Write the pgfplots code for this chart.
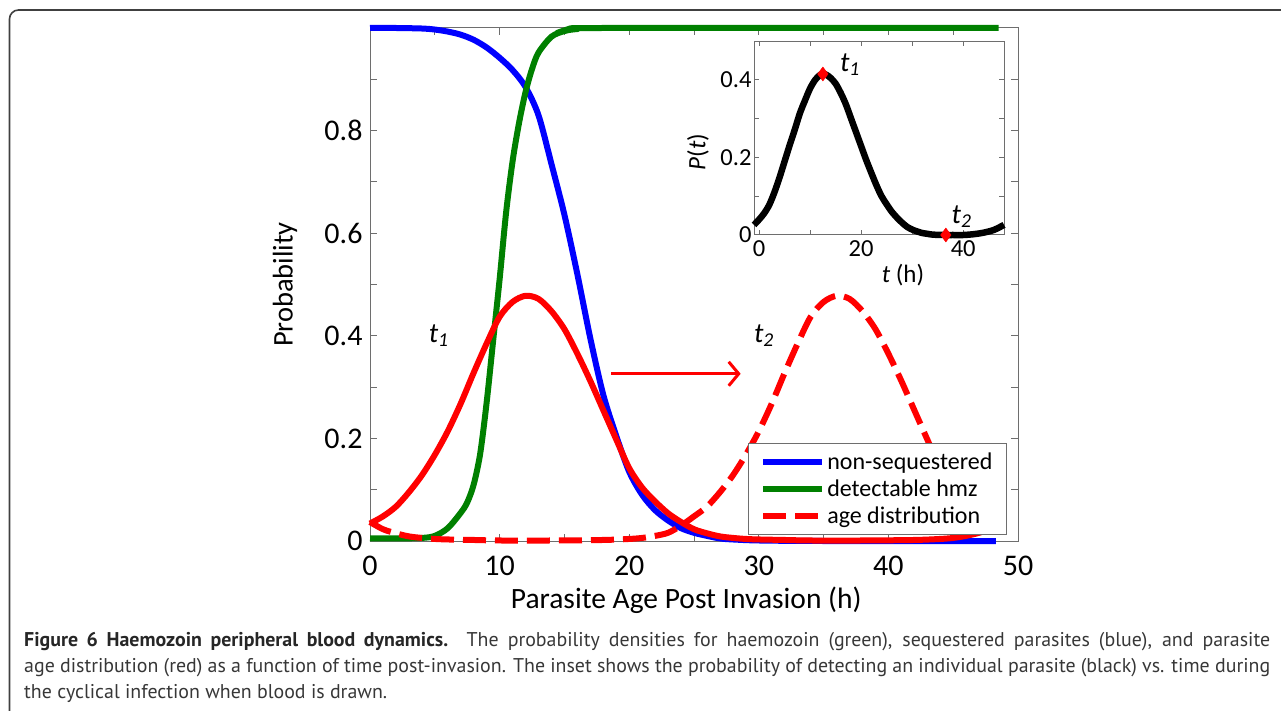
\documentclass[border=0pt]{standalone}
\usepackage{pgfplots}
\pgfplotsset{compat=1.18}
\usepackage{fontspec}
\setmainfont{Carlito}
\newfontfamily\capfont{PT Sans}
\usetikzlibrary{arrows.meta}
\definecolor{mblue}{RGB}{0,0,255}
\definecolor{mgreen}{RGB}{0,128,0}
\definecolor{mred}{RGB}{255,0,0}
\definecolor{axgray}{RGB}{110,110,110}
\definecolor{capgray}{RGB}{55,55,55}
\begin{document}
\begin{tikzpicture}[x=1pt,y=1pt]
\useasboundingbox (0,0) rectangle (1281,710);
\begin{scope}
\clip (0,0) rectangle (1281,710);
\draw[black!75, line width=1.6pt, rounded corners=9pt] (9.5,-30) -- (9.5,700) -- (1330,700);
\end{scope}
\begin{axis}[
  at={(370pt,169pt)}, anchor=south west,
  scale only axis, width=648pt, height=513pt,
  xmin=0, xmax=50, ymin=0, ymax=1,
  clip=false,
  axis line style={axgray, line width=1pt},
  tick style={axgray, line width=1pt},
  major tick length=7pt,
  tick align=inside,
  xtick={0,5,10,15,20,25,30,35,40,45,50},
  xticklabels={0,,10,,20,,30,,40,,50},
  ytick={0,0.1,0.2,0.3,0.4,0.5,0.6,0.7,0.8,0.9},
  yticklabels={0,,0.2,,0.4,,0.6,,0.8,},
  /pgf/number format/assume math mode=true,
  tick label style={font=\fontsize{30}{32}\selectfont},
  xticklabel style={yshift=-11pt},
  yticklabel style={xshift=-4pt},
  xlabel={Parasite Age Post Invasion (h)},
  ylabel={Probability},
  xlabel style={font=\fontsize{29.5}{32}\selectfont, at={(axis description cs:0.488,-0.115)}, anchor=center},
  ylabel style={font=\fontsize{28.5}{32}\selectfont, at={(axis description cs:-0.131,0.5)}, anchor=center},
  legend style={font=\fontsize{24}{27}\selectfont, draw=axgray, line width=1pt,
    at={(axis description cs:0.583,0.012)}, anchor=south west,
    inner xsep=12pt, inner ysep=7pt, row sep=5pt, fill=white},
  legend cell align=left,
  legend image code/.code={\draw[#1, line width=6pt] (0pt,0pt) -- (59pt,0pt);},
]
\addplot[mblue, line width=6pt, smooth] coordinates {
(0,1.000) (2,1.000) (4,0.999) (5,0.997) (6,0.993) (7,0.987) (8,0.977) (9,0.962)
(10,0.942) (11,0.918) (12,0.885) (13,0.830) (14,0.735) (15,0.636) (16,0.520)
(17,0.395) (18,0.285) (19,0.205) (20,0.135) (21,0.090) (22,0.060) (23,0.040)
(24,0.025) (25,0.016) (26,0.010) (27,0.005) (28,0.003) (30,0.001) (35,0.000) (48.3,0.000)};
\addlegendentry{non-sequestered}
\addplot[mgreen, line width=6pt, smooth] coordinates {
(0,0.005) (2,0.005) (4,0.006) (5,0.010) (6,0.025) (7,0.055) (7.5,0.075) (8,0.110)
(8.5,0.170) (9,0.270) (9.5,0.390) (10,0.510) (10.5,0.640) (11,0.740) (11.5,0.815)
(12,0.875) (12.5,0.920) (13,0.952) (14,0.983) (15,0.994) (16,0.998) (18,1.000) (48.5,1.000)};
\addlegendentry{detectable hmz}
\addplot[mred, line width=6pt, smooth, forget plot] coordinates {
(0,0.034) (1,0.048) (2,0.067) (3,0.095) (4,0.128) (5,0.168) (6,0.214) (7,0.268)
(8,0.328) (9,0.385) (10,0.437) (11,0.466) (12,0.478) (13,0.472) (14,0.448) (15,0.413)
(16,0.365) (17,0.312) (18,0.255) (19,0.198) (20,0.142) (21,0.104) (22,0.077) (23,0.054)
(24,0.037) (25,0.023) (26,0.015) (27,0.009) (28,0.006) (29,0.004) (30,0.003) (32,0.002)
(34,0.001) (38,0.001) (42,0.002) (44,0.004) (45,0.006) (46,0.010) (47,0.016) (48,0.024)};
\addplot[mred, line width=6pt, smooth, dash pattern=on 23pt off 9pt] coordinates {
(0,0.037) (1,0.023) (2,0.015) (3,0.009) (4,0.006) (5,0.004) (6,0.003) (8,0.002)
(10,0.001) (14,0.001) (18,0.002) (20,0.004) (21,0.006) (22,0.010) (23,0.016) (24,0.030)
(25,0.048) (26,0.067) (27,0.095) (28,0.128) (29,0.168) (30,0.214) (31,0.268) (32,0.328)
(33,0.385) (34,0.437) (35,0.466) (36,0.478) (37,0.472) (38,0.448) (39,0.413) (40,0.365)
(41,0.312) (42,0.255) (43,0.198) (44,0.142) (45,0.104) (46,0.077) (47,0.054) (48,0.037)};
\addlegendentry{age distribution}
\draw[mred, line width=3pt, -{Straight Barb[length=10pt,width=24pt,line width=3pt]}] (axis cs:18.6,0.326) -- (axis cs:28.6,0.326);
\node[font=\fontsize{28}{30}\selectfont] at (axis cs:5.3,0.40) {\textit{t}\textsubscript{\textit{1}}};
\node[font=\fontsize{28}{30}\selectfont] at (axis cs:30.4,0.40) {\textit{t}\textsubscript{\textit{2}}};
\end{axis}
\begin{axis}[
  at={(754pt,475pt)}, anchor=south west,
  scale only axis, width=250pt, height=194pt,
  xmin=-1, xmax=48, ymin=0, ymax=0.5,
  clip=false,
  axis background/.style={fill=white},
  axis line style={axgray, line width=1pt},
  tick style={axgray, line width=1pt},
  major tick length=5pt,
  tick align=inside,
  xtick={0,10,20,30,40},
  xticklabels={0,,20,,40},
  ytick={0,0.1,0.2,0.3,0.4},
  yticklabels={0,,0.2,,0.4},
  /pgf/number format/assume math mode=true,
  tick label style={font=\fontsize{24.5}{26}\selectfont},
  xticklabel style={yshift=-2pt},
  yticklabel style={xshift=1pt},
  xlabel={\textit{t} (h)},
  ylabel={\textit{P}(\textit{t})},
  label style={font=\fontsize{25}{28}\selectfont},
  xlabel style={at={(axis description cs:0.596,-0.206)}, anchor=center},
  ylabel style={at={(axis description cs:-0.224,0.428)}, anchor=center},
]
\addplot[black, line width=6.5pt, smooth] coordinates {
(-1,0.026) (0,0.040) (1,0.056) (2,0.078) (3,0.110) (4,0.148) (5,0.190) (6,0.232)
(7,0.272) (8,0.314) (9,0.347) (10,0.378) (11,0.400) (12,0.413) (13,0.414) (14,0.405)
(15,0.390) (16,0.366) (17,0.337) (18,0.301) (19,0.265) (20,0.229) (21,0.193) (22,0.160)
(23,0.128) (24,0.100) (25,0.079) (26,0.060) (27,0.045) (28,0.032) (29,0.021) (30,0.014)
(31,0.009) (32,0.005) (33,0.003) (34,0.001) (36,0.000) (38,0.000) (40,0.000) (42,0.002)
(44,0.006) (46,0.013) (48,0.026)};
\addplot[only marks, mark=diamond*, mark size=7pt, mred] coordinates {(12.5,0.415) (36.6,0.0)};
\node[font=\fontsize{28}{30}\selectfont] at (axis cs:17.8,0.438) {\textit{t}\textsubscript{\textit{1}}};
\node[font=\fontsize{28}{30}\selectfont] at (axis cs:39.7,0.047) {\textit{t}\textsubscript{\textit{2}}};
\end{axis}
\node[anchor=base west, inner sep=0pt, font=\capfont\fontsize{19.9}{22}\selectfont, text=capgray] at (24,64) {\makebox[1246pt][s]{{\bfseries\color{black!85}Figure 6 Haemozoin peripheral blood dynamics.} The probability densities for haemozoin (green), sequestered parasites (blue), and parasite}};
\node[anchor=base west, inner sep=0pt, font=\capfont\fontsize{19.9}{22}\selectfont, text=capgray] at (24,38) {\makebox[1246pt][s]{age distribution (red) as a function of time post-invasion. The inset shows the probability of detecting an individual parasite (black) vs. time during}};
\node[anchor=base west, inner sep=0pt, font=\capfont\fontsize{19.9}{22}\selectfont, text=capgray] at (24,12) {the cyclical infection when blood is drawn.};
\end{tikzpicture}
\end{document}
